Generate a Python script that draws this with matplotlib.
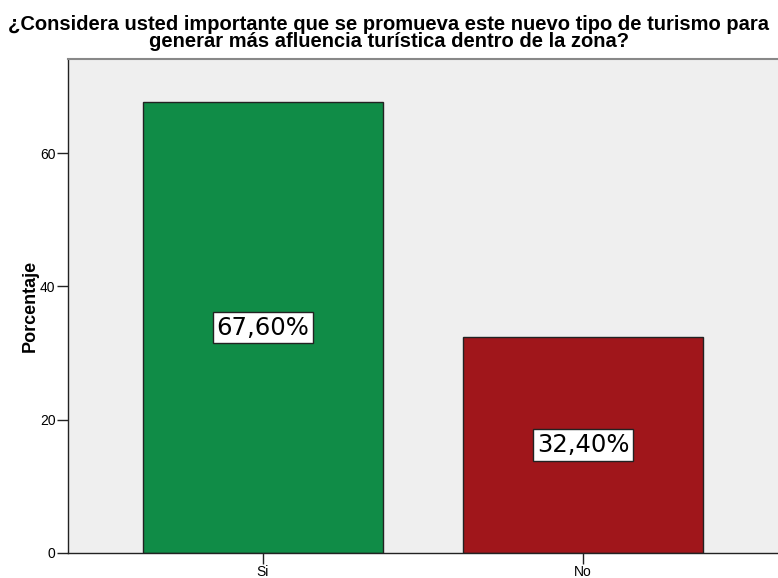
import matplotlib.pyplot as plt

# data
categorias = ["Si", "No"]
porcentajes = [67.6, 32.4]
etiquetas = ["67,60%", "32,40%"]
colores = ["#108C47", "#A0161B"]

titulo = ("¿Considera usted importante que se promueva este nuevo tipo de turismo para\n"
          "generar más afluencia turística dentro de la zona?")

fig = plt.figure(figsize=(7.78, 5.78), dpi=100)
ax = fig.add_axes([0.0874, 0.0433, 0.9126, 0.8546])
ax.set_facecolor("#EFEFEF")

pos = range(len(categorias))
ax.bar(pos, porcentajes, width=0.75, color=colores, edgecolor="#222222", linewidth=1.0, zorder=2)

for x, v, t in zip(pos, porcentajes, etiquetas):
    ax.text(x, v / 2, t, ha="center", va="center", fontsize=17.5, family="DejaVu Sans",
            bbox=dict(boxstyle="square,pad=0.15", fc="white", ec="#222222", lw=1.0), zorder=3)

ax.set_xlim(-0.609, 1.609)
ax.set_ylim(0, 74.1)
ax.set_xticks(list(pos))
ax.set_xticklabels(categorias, fontsize=10, family="Liberation Sans")
ax.set_yticks([0, 20, 40, 60])
ax.set_yticklabels(["0", "20", "40", "60"], fontsize=10, family="Liberation Sans")
ax.tick_params(axis="both", direction="out", length=8, width=1.0, color="#222222", pad=1)

ax.set_ylabel("Porcentaje", fontsize=13, fontweight="bold", family="Liberation Sans", labelpad=1)

for s in ["left", "bottom"]:
    ax.spines[s].set_color("#222222")
    ax.spines[s].set_linewidth(1.0)
ax.spines["top"].set_color("#888888")
ax.spines["top"].set_linewidth(1.5)
ax.spines["right"].set_visible(False)

fig.text(0.5, 0.974, titulo, ha="center", va="top", fontsize=14.5, fontweight="bold",
         family="Liberation Sans", linespacing=0.88)

fig.savefig("out.png", dpi=100)
